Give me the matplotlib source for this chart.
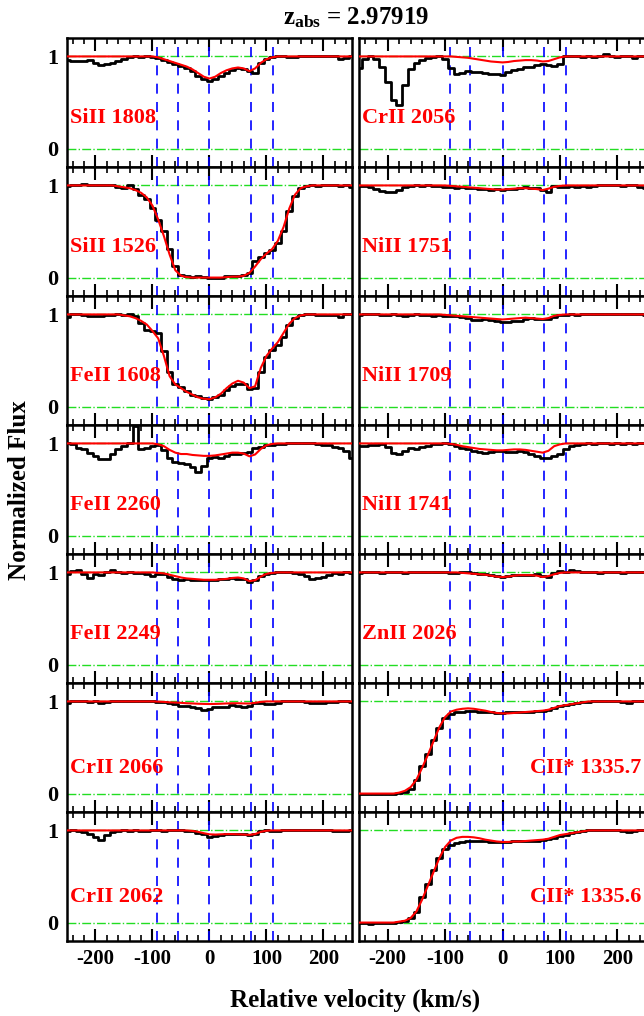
import numpy as np
import matplotlib
matplotlib.use("Agg")
import matplotlib.pyplot as plt

plt.rcParams['font.family'] = ['Liberation Serif', 'DejaVu Serif']
plt.rcParams['font.weight'] = 'bold'
plt.rcParams['axes.unicode_minus'] = False
plt.rcParams['mathtext.fontset'] = 'custom'
plt.rcParams['mathtext.rm'] = 'Liberation Serif:bold'
plt.rcParams['mathtext.bf'] = 'Liberation Serif:bold'
plt.rcParams['mathtext.it'] = 'Liberation Serif:bold'

# velocity grid of the spectra (km/s)
vel = np.arange(-250, 251, 10)

# component positions (km/s)
comp_v = [-92, -56, 0, 73, 111]

# ---- left column ----
si1808_f = [0.96, 0.95, 0.95, 0.95, 0.96, 0.93, 0.91, 0.92, 0.93, 0.95,
            0.97, 0.99, 1.00, 0.99, 1.00, 0.99, 0.98, 0.96, 0.94, 0.92,
            0.90, 0.87, 0.84, 0.79, 0.76, 0.73, 0.76, 0.79, 0.82, 0.85,
            0.87, 0.86, 0.84, 0.82, 0.93, 0.97, 0.99, 1.00, 1.00, 0.99,
            0.99, 1.00, 1.00, 1.01, 1.01, 1.00, 1.00, 1.00, 0.97, 0.98,
            1.00]
si1808_m = [1.0] * 16 + [0.99, 0.97, 0.95, 0.93, 0.91, 0.89, 0.86, 0.82, 0.78, 0.76,
                         0.78, 0.82, 0.85, 0.87, 0.88, 0.87, 0.84, 0.87, 0.93, 0.97,
                         0.99] + [1.0] * 14

si1526_f = [0.99, 1.01, 1.00, 1.02, 1.00, 1.00, 1.01, 1.00, 1.00, 0.98,
            0.97, 1.00, 0.96, 0.90, 0.85, 0.76, 0.63, 0.50, 0.31, 0.13,
            0.03, 0.02, 0.01, 0.02, 0.01, 0.00, -0.01, 0.00, 0.02, 0.02,
            0.02, 0.03, 0.05, 0.18, 0.22, 0.27, 0.30, 0.38, 0.50, 0.72,
            0.88, 0.97, 0.99, 1.00, 0.99, 1.01, 1.00, 1.01, 0.99, 1.00,
            0.98]
si1526_m = [1.0] * 9 + [0.99, 0.98, 0.97, 0.95, 0.92, 0.87, 0.78, 0.63, 0.45, 0.25,
                        0.08, 0.02, 0.005, 0.0, 0.0, 0.0, 0.0, 0.0, 0.0, 0.005,
                        0.01, 0.01, 0.02, 0.05, 0.12, 0.20, 0.26, 0.31, 0.40, 0.55,
                        0.75, 0.90, 0.97, 0.99] + [1.0] * 8

fe1608_f = [0.97, 1.00, 1.00, 0.99, 0.98, 0.98, 0.98, 0.99, 0.99, 1.00,
            0.99, 1.00, 0.98, 0.91, 0.83, 0.82, 0.80, 0.60, 0.38, 0.25,
            0.21, 0.17, 0.13, 0.11, 0.09, 0.08, 0.10, 0.13, 0.18, 0.22,
            0.25, 0.25, 0.19, 0.20, 0.38, 0.54, 0.61, 0.67, 0.75, 0.88,
            0.96, 0.99, 1.00, 1.00, 0.99, 0.99, 0.99, 0.99, 0.97, 1.00,
            1.00]
fe1608_m = [1.0] * 9 + [1.0, 0.99, 0.98, 0.96, 0.93, 0.89, 0.82, 0.74, 0.55, 0.33,
                        0.24, 0.20, 0.16, 0.13, 0.10, 0.085, 0.08, 0.10, 0.14, 0.20,
                        0.25, 0.28, 0.26, 0.20, 0.22, 0.42, 0.55, 0.63, 0.70, 0.80,
                        0.90, 0.96, 0.99] + [1.0] * 9

fe2260_f = [1.00, 0.99, 0.95, 0.94, 0.90, 0.86, 0.83, 0.83, 0.88, 0.94,
            0.97, 1.00, 1.19, 0.94, 0.95, 0.97, 0.98, 0.93, 0.84, 0.80,
            0.79, 0.78, 0.74, 0.69, 0.76, 0.84, 0.85, 0.84, 0.86, 0.88,
            0.89, 0.90, 0.91, 0.95, 0.96, 0.98, 0.98, 0.99, 0.99, 1.00,
            1.00, 1.00, 1.01, 1.01, 0.99, 0.98, 0.98, 0.96, 0.95, 0.92,
            0.84]
fe2260_m = [1.0] * 16 + [0.99, 0.97, 0.93, 0.90, 0.885, 0.885, 0.875, 0.87, 0.865, 0.865,
                         0.87, 0.88, 0.89, 0.90, 0.90, 0.89, 0.86, 0.88, 0.94, 0.98,
                         0.995] + [1.0] * 14

fe2249_f = [0.98, 1.02, 1.03, 0.98, 0.94, 0.98, 0.97, 1.01, 1.03, 1.00,
            0.99, 1.00, 0.99, 0.99, 0.98, 0.96, 0.98, 0.98, 0.95, 0.93,
            0.92, 0.93, 0.92, 0.92, 0.92, 0.92, 0.92, 0.93, 0.93, 0.94,
            0.93, 0.93, 0.90, 0.92, 0.96, 0.98, 0.99, 1.00, 1.00, 1.00,
            0.99, 0.98, 0.96, 0.93, 0.94, 0.95, 0.97, 0.99, 0.98, 1.00,
            0.99]
fe2249_m = [1.0] * 16 + [0.995, 0.99, 0.975, 0.96, 0.945, 0.935, 0.93, 0.925, 0.92, 0.92,
                         0.92, 0.925, 0.93, 0.94, 0.945, 0.935, 0.905, 0.915, 0.955, 0.985,
                         0.995] + [1.0] * 14

cr2066_f = [0.98, 1.00, 1.01, 1.00, 0.99, 1.00, 0.98, 0.99, 1.00, 1.00,
            1.01, 1.00, 1.00, 1.00, 1.00, 1.01, 0.99, 0.99, 0.98, 0.97,
            0.95, 0.95, 0.94, 0.93, 0.91, 0.92, 0.94, 0.94, 0.94, 0.96,
            0.95, 0.94, 0.95, 0.98, 0.98, 0.97, 0.97, 0.98, 1.00, 1.01,
            1.00, 1.00, 0.99, 0.98, 0.98, 0.98, 0.99, 0.99, 1.01, 1.01,
            0.99]
cr2066_m = [1.0] * 16 + [0.998, 0.995, 0.99, 0.988, 0.985, 0.98, 0.978, 0.975, 0.973, 0.972,
                         0.973, 0.975, 0.978, 0.98, 0.98, 0.978, 0.977, 0.985, 0.995] + [1.0] * 16

cr2062_f = [0.99, 1.00, 0.99, 0.98, 0.96, 0.93, 0.90, 0.95, 0.98, 0.99,
            1.00, 0.99, 1.00, 0.99, 0.99, 1.00, 1.00, 0.99, 1.00, 1.00,
            1.00, 0.99, 0.99, 0.97, 0.96, 0.93, 0.94, 0.95, 0.96, 0.96,
            0.96, 0.96, 0.95, 0.96, 0.99, 1.00, 0.99, 0.99, 1.00, 1.00,
            1.00, 1.00, 1.00, 1.01, 1.00, 1.00, 1.00, 0.99, 0.99, 0.99,
            1.00]
cr2062_m = [1.0] * 22 + [0.995, 0.985, 0.97, 0.958, 0.955, 0.958, 0.96, 0.96, 0.958, 0.955,
                         0.952, 0.96, 0.985, 0.997] + [1.0] * 15

# ---- right column ----
cr2056_f = [0.87, 0.97, 1.00, 0.97, 0.88, 0.72, 0.53, 0.47, 0.69, 0.86,
            0.93, 0.96, 0.98, 0.99, 1.00, 0.97, 0.87, 0.81, 0.82, 0.84,
            0.83, 0.83, 0.82, 0.81, 0.81, 0.80, 0.83, 0.85, 0.86, 0.88,
            0.89, 0.91, 0.92, 0.91, 0.90, 0.92, 1.00, 1.00, 1.00, 0.99,
            1.00, 0.99, 1.01, 1.03, 1.00, 0.99, 1.01, 1.00, 0.98, 1.00,
            1.00]
cr2056_m = [1.0] * 17 + [0.995, 0.99, 0.985, 0.975, 0.965, 0.955, 0.945, 0.94, 0.935, 0.94,
                         0.95, 0.955, 0.96, 0.96, 0.955, 0.945, 0.95, 0.97, 0.99] + [1.0] * 15

ni1751_f = [0.99, 0.99, 0.98, 0.96, 0.94, 0.93, 0.93, 0.95, 0.98, 0.99,
            1.00, 0.99, 1.00, 0.99, 0.99, 0.98, 0.98, 0.97, 0.98, 0.97,
            0.97, 0.96, 0.96, 0.95, 0.96, 0.95, 0.96, 0.96, 0.97, 0.98,
            0.97, 0.97, 0.95, 0.93, 0.99, 0.98, 0.98, 0.99, 0.98, 0.99,
            0.98, 0.99, 1.00, 1.01, 1.00, 1.01, 0.99, 1.00, 1.00, 0.98,
            0.97]
ni1751_m = [1.0] * 16 + [0.995, 0.99, 0.985, 0.98, 0.975, 0.97, 0.965, 0.96, 0.955, 0.955,
                         0.96, 0.965, 0.97, 0.97, 0.965, 0.96, 0.95, 0.965, 0.985, 0.995] + [1.0] * 15

ni1709_f = [0.99, 1.00, 1.01, 1.00, 0.99, 0.99, 1.00, 0.99, 0.98, 0.99,
            1.00, 0.99, 0.99, 0.98, 0.99, 0.98, 0.98, 0.98, 0.97, 0.96,
            0.94, 0.94, 0.95, 0.94, 0.93, 0.92, 0.92, 0.93, 0.93, 0.95,
            0.96, 0.95, 0.95, 0.95, 0.97, 0.99, 0.99, 1.00, 0.99, 1.00,
            1.00, 1.00, 1.01, 1.00, 1.00, 1.00, 1.01, 1.00, 1.00, 1.01,
            0.99]
ni1709_m = [1.0] * 15 + [0.995, 0.99, 0.985, 0.98, 0.975, 0.97, 0.965, 0.96, 0.955, 0.95,
                         0.945, 0.95, 0.955, 0.96, 0.965, 0.96, 0.955, 0.95, 0.96, 0.985,
                         0.995] + [1.0] * 15

ni1741_f = [0.97, 0.97, 0.98, 0.98, 0.99, 0.96, 0.90, 0.88, 0.92, 0.95,
            0.94, 0.96, 0.97, 0.99, 0.99, 1.00, 0.99, 0.97, 0.95, 0.94,
            0.92, 0.91, 0.90, 0.91, 0.92, 0.92, 0.91, 0.91, 0.92, 0.91,
            0.88, 0.86, 0.84, 0.84, 0.86, 0.89, 0.94, 0.97, 0.98, 0.99,
            1.00, 0.99, 1.00, 1.00, 0.99, 1.00, 0.99, 1.00, 0.99, 1.00,
            1.00]
ni1741_m = [1.0] * 16 + [0.995, 0.985, 0.97, 0.96, 0.95, 0.94, 0.935, 0.93, 0.925, 0.925,
                         0.93, 0.935, 0.935, 0.93, 0.92, 0.91, 0.90, 0.92, 0.97, 0.99] + [1.0] * 15

zn2026_f = [0.99, 1.00, 1.00, 1.00, 0.99, 1.01, 1.01, 1.00, 0.99, 1.01,
            1.00, 1.00, 1.00, 1.01, 1.00, 1.00, 0.99, 0.99, 1.00, 1.00,
            0.99, 0.98, 0.98, 0.97, 0.96, 0.95, 0.96, 0.97, 0.97, 0.97,
            0.97, 0.98, 0.96, 0.95, 0.99, 1.02, 1.00, 1.03, 1.02, 1.00,
            1.00, 1.00, 0.99, 1.00, 1.00, 1.00, 0.99, 1.00, 1.01, 1.00,
            1.00]
zn2026_m = [1.0] * 18 + [0.995, 0.99, 0.985, 0.98, 0.975, 0.965, 0.955, 0.95, 0.955, 0.965,
                         0.97, 0.97, 0.97, 0.965, 0.95, 0.96, 0.98, 0.995] + [1.0] * 15

c1335a_f = [-0.01, -0.01, 0.00, 0.00, 0.00, 0.00, 0.00, 0.01, 0.02, 0.05,
            0.15, 0.30, 0.43, 0.58, 0.71, 0.82, 0.86, 0.88, 0.89, 0.90,
            0.90, 0.89, 0.88, 0.88, 0.87, 0.87, 0.88, 0.88, 0.88, 0.89,
            0.89, 0.90, 0.90, 0.91, 0.93, 0.95, 0.96, 0.97, 0.98, 0.99,
            0.99, 1.00, 1.00, 1.00, 1.00, 1.01, 0.99, 0.98, 1.00, 1.00,
            1.00]
c1335a_m = [0.0] * 7 + [0.01, 0.03, 0.07, 0.15, 0.28, 0.42, 0.57, 0.72, 0.83, 0.89,
                        0.91, 0.92, 0.925, 0.92, 0.91, 0.90, 0.885, 0.875, 0.87, 0.87,
                        0.875, 0.88, 0.885, 0.89, 0.895, 0.90, 0.91, 0.93, 0.95, 0.96,
                        0.97, 0.98, 0.99] + [1.0] * 11

c1335b_f = [-0.01, -0.01, -0.02, -0.01, 0.00, 0.00, 0.00, 0.01, 0.02, 0.05,
            0.12, 0.28, 0.42, 0.57, 0.70, 0.80, 0.84, 0.86, 0.87, 0.88,
            0.88, 0.88, 0.88, 0.87, 0.87, 0.87, 0.87, 0.88, 0.88, 0.88,
            0.89, 0.89, 0.90, 0.91, 0.92, 0.94, 0.95, 0.97, 0.98, 0.99,
            1.00, 1.00, 1.00, 1.00, 1.00, 1.00, 0.99, 0.98, 0.99, 1.00,
            1.00]
c1335b_m = [0.0] * 7 + [0.01, 0.02, 0.05, 0.12, 0.25, 0.40, 0.55, 0.70, 0.82, 0.89,
                        0.92, 0.93, 0.93, 0.925, 0.915, 0.90, 0.89, 0.88, 0.875, 0.875,
                        0.88, 0.88, 0.885, 0.89, 0.895, 0.90, 0.91, 0.93, 0.95, 0.96,
                        0.97, 0.98, 0.99] + [1.0] * 11

left_names = ['SiII 1808', 'SiII 1526', 'FeII 1608', 'FeII 2260', 'FeII 2249', 'CrII 2066', 'CrII 2062']
left_flux = [si1808_f, si1526_f, fe1608_f, fe2260_f, fe2249_f, cr2066_f, cr2062_f]
left_model = [si1808_m, si1526_m, fe1608_m, fe2260_m, fe2249_m, cr2066_m, cr2062_m]

right_names = ['CrII 2056', 'NiII 1751', 'NiII 1709', 'NiII 1741', 'ZnII 2026', 'CII* 1335.7', 'CII* 1335.6']
right_flux = [cr2056_f, ni1751_f, ni1709_f, ni1741_f, zn2026_f, c1335a_f, c1335b_f]
right_model = [cr2056_m, ni1751_m, ni1709_m, ni1741_m, zn2026_m, c1335a_m, c1335b_m]

W, H = 644, 1016
fig = plt.figure(figsize=(W / 100, H / 100), dpi=100)

top_px = 38
panel_px = 129
col_left = [67, 359]
col_w = 287


def draw_panel(ax, flux, model, name, right=False, bottom=False, row=0):
    ax.axhline(1, color='#22dd22', ls='-.', lw=1.0, zorder=1)
    ax.axhline(0, color='#22dd22', ls='-.', lw=1.0, zorder=1)
    for v in comp_v:
        ax.axvline(v, color='#0000ff', ls=(0, (6, 5)), lw=1.2, zorder=2)
    ax.plot(vel, flux, drawstyle='steps-mid', color='black', lw=2.0, zorder=3)
    ax.plot(vel, model, color='red', lw=1.5, zorder=4)
    ax.set_xlim(-250, 250)
    ax.set_ylim(-0.2, 1.2)
    ax.set_xticks([-200, -100, 0, 100, 200])
    ax.set_xticks(np.arange(-240, 250, 20), minor=True)
    ax.tick_params(axis='x', which='major', direction='in', top=True, bottom=True,
                   length=9, width=1.5, labelsize=15, pad=6)
    ax.tick_params(axis='x', which='minor', direction='in', top=True, bottom=True,
                   length=4.5, width=1.2)
    ax.set_yticks([0, 1])
    ax.tick_params(axis='y', length=0, labelsize=16, pad=6)
    if right:
        ax.set_yticklabels([])
    if not bottom:
        ax.set_xticklabels([])
    for s in ax.spines.values():
        s.set_linewidth(1.8)
    ty = 0.28 if row >= 5 else 0.33
    if name.startswith('CII*'):
        ax.text(0.985, ty, name, transform=ax.get_yaxis_transform(), ha='right', va='center',
                color='red', fontsize=16, fontweight='bold')
    else:
        ax.text(0.01, ty, name, transform=ax.get_yaxis_transform(), ha='left', va='center',
                color='red', fontsize=16, fontweight='bold')


for i in range(7):
    y0 = 1 - (top_px + (i + 1) * panel_px) / H
    axl = fig.add_axes([col_left[0] / W, y0, 285 / W, panel_px / H])
    draw_panel(axl, left_flux[i], left_model[i], left_names[i], right=False, bottom=(i == 6), row=i)
    axr = fig.add_axes([col_left[1] / W, y0, col_w / W, panel_px / H])
    draw_panel(axr, right_flux[i], right_model[i], right_names[i], right=True, bottom=(i == 6), row=i)

fig.text(0.553, 1 - 18 / H, r'$\mathbf{z_{abs}}$ = 2.97919', ha='center', va='center',
         fontsize=18, fontweight='bold')
fig.text(0.552, 1 - 1000 / H, 'Relative velocity (km/s)', ha='center', va='center',
         fontsize=18, fontweight='bold')
fig.text(0.031, 1 - 490 / H, 'Normalized Flux', ha='center', va='center', rotation=90,
         fontsize=18, fontweight='bold')

fig.savefig('out.png', dpi=100)
